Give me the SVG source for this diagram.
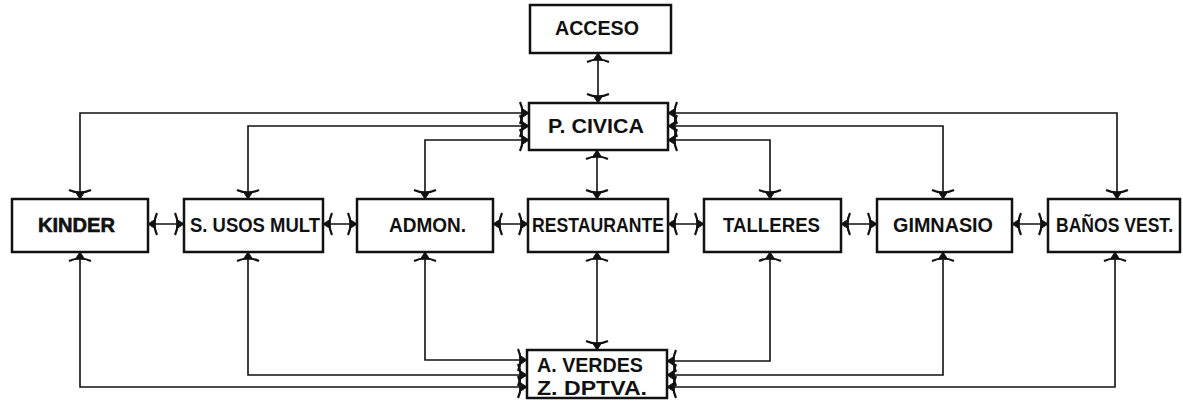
<svg xmlns="http://www.w3.org/2000/svg" width="1183" height="402" viewBox="0 0 1183 402">
<style>
.box{fill:#fff;stroke:#111;stroke-width:2.5}
.t{font-family:"Liberation Sans",Arial,sans-serif;font-weight:bold;font-size:20px;fill:#111}
.c{fill:none;stroke:#111;stroke-width:1.6;marker-start:url(#ah);marker-end:url(#ah)}
.ahp{fill:#111;stroke:#111;stroke-width:1}
.ahb{fill:none;stroke:#111;stroke-width:2.2}
</style>
<defs>
<marker id="ah" viewBox="-11 -14 12 28" refX="0" refY="0" markerWidth="12" markerHeight="28" markerUnits="userSpaceOnUse" orient="auto-start-reverse">
<path class="ahp" d="M0,0 L-7,-4.5 L-7,4.5 Z"/>
<path class="ahb" d="M-9,-11 Q-4,0 -9,11"/>
</marker>
</defs>
<rect width="1183" height="402" fill="#fff"/>
<g id="connectors">
<path class="c" d="M598,53 V103"/>
<path class="c" d="M597,150 V199"/>
<path class="c" d="M597,252 V350"/>
<path class="c" d="M529,113 H80 V199"/>
<path class="c" d="M529,126 H248 V199"/>
<path class="c" d="M529,140 H425 V199"/>
<path class="c" d="M668,113 H1117 V199"/>
<path class="c" d="M668,126 H943 V199"/>
<path class="c" d="M668,140 H770 V199"/>
<path class="c" d="M527,387 H80 V252"/>
<path class="c" d="M527,375 H248 V252"/>
<path class="c" d="M527,360 H425 V252"/>
<path class="c" d="M667,387 H1115 V252"/>
<path class="c" d="M667,375 H943 V252"/>
<path class="c" d="M667,361 H770 V252"/>
<path class="c" d="M148,224 H184"/>
<path class="c" d="M323,224 H357"/>
<path class="c" d="M493,224 H528"/>
<path class="c" d="M668,224 H704"/>
<path class="c" d="M841,224 H877"/>
<path class="c" d="M1012,224 H1048"/>
</g>
<g id="acceso"><rect class="box" x="530" y="5" width="141" height="48"/><text class="t" x="555" y="35" textLength="84" lengthAdjust="spacingAndGlyphs">ACCESO</text></g>
<g id="pcivica"><rect class="box" x="529" y="103" width="139" height="47"/><text class="t" x="548" y="133" textLength="96" lengthAdjust="spacingAndGlyphs">P. CIVICA</text></g>
<g id="kinder"><rect class="box" x="12" y="199" width="136" height="53"/><text class="t" x="38" y="232" font-size="21" stroke="#111" stroke-width="0.6" textLength="77" lengthAdjust="spacingAndGlyphs">KINDER</text></g>
<g id="usos"><rect class="box" x="184" y="199" width="139" height="53"/><text class="t" x="190" y="232" textLength="130" lengthAdjust="spacingAndGlyphs">S. USOS MULT</text></g>
<g id="admon"><rect class="box" x="357" y="199" width="136" height="53"/><text class="t" x="389" y="232" textLength="77" lengthAdjust="spacingAndGlyphs">ADMON.</text></g>
<g id="restaurante"><rect class="box" x="528" y="199" width="140" height="53"/><text class="t" x="532" y="232" textLength="132" lengthAdjust="spacingAndGlyphs">RESTAURANTE</text></g>
<g id="talleres"><rect class="box" x="704" y="199" width="137" height="53"/><text class="t" x="723" y="232" textLength="97" lengthAdjust="spacingAndGlyphs">TALLERES</text></g>
<g id="gimnasio"><rect class="box" x="877" y="199" width="135" height="53"/><text class="t" x="893" y="232" textLength="100" lengthAdjust="spacingAndGlyphs">GIMNASIO</text></g>
<g id="banos"><rect class="box" x="1048" y="199" width="132" height="53"/><text class="t" x="1056" y="232" textLength="117" lengthAdjust="spacingAndGlyphs">BAÑOS VEST.</text></g>
<g id="verdes"><rect class="box" x="527" y="350" width="140" height="48"/><text class="t" x="537" y="372" textLength="106" lengthAdjust="spacingAndGlyphs">A. VERDES</text><text class="t" x="537" y="395" textLength="110" lengthAdjust="spacingAndGlyphs">Z. DPTVA.</text></g>
</svg>
